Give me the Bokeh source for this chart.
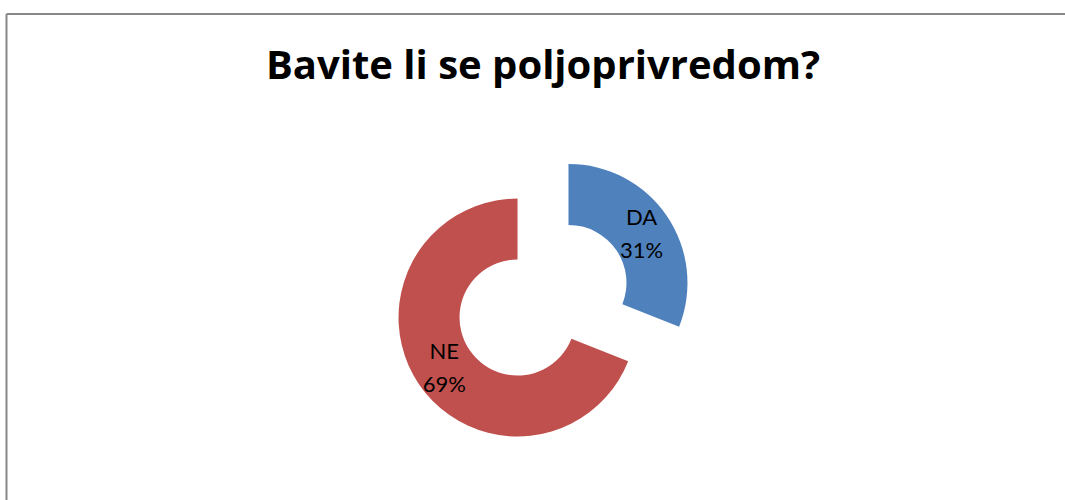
import numpy as np
from bokeh.plotting import figure
from bokeh.models import Range1d, ColumnDataSource
from bokeh.core.properties import value
from bokeh.embed import file_html
from bokeh.resources import INLINE

# ---- data ----
categories = ["DA", "NE"]
percents = [31, 69]
colors = ["#4F81BD", "#C0504D"]
title_text = "Bavite li se poljoprivredom?"

# ---- layout (pixels, y measured from top of page) ----
W, H = 1065, 500
CX, CY = 542.5, 299.7
R_OUT, R_IN = 119, 58
EXPLODE = 30.8

vals = np.array(percents, dtype=float)
frac = vals / vals.sum()
cum = np.concatenate([[0], np.cumsum(frac)])
a0 = cum[:-1] * 360.0   # clockwise from 12 o'clock
a1 = cum[1:] * 360.0
start = np.radians(90 - a1)
end = np.radians(90 - a0)
mid = np.radians(90 - (a0 + a1) / 2)

cy_data = H - CY
xs = CX + EXPLODE * np.cos(mid)
ys = cy_data + EXPLODE * np.sin(mid)
r_mid = (R_OUT + R_IN) / 2
lx = xs + r_mid * np.cos(mid)
ly = ys + r_mid * np.sin(mid)
labels = [f"{c}\n{p}%" for c, p in zip(categories, percents)]

src = ColumnDataSource(dict(x=xs, y=ys, start=start, end=end, color=colors,
                            lx=lx, ly=ly, label=labels))

p = figure(width=W, height=H, x_range=Range1d(0, W), y_range=Range1d(0, H),
           output_backend="svg", toolbar_location=None, min_border=0,
           outline_line_color=None, background_fill_color="white",
           border_fill_color="white")
p.axis.visible = False
p.grid.visible = False

# chart border
p.segment(x0=[6, 6], y0=[H - 13.5, H - 13.5], x1=[6, W + 5], y1=[-5, H - 13.5],
          line_color="#888888", line_width=2)

p.annular_wedge(x="x", y="y", inner_radius=R_IN, outer_radius=R_OUT,
                start_angle="start", end_angle="end", fill_color="color",
                line_color=None, source=src)

p.text(x="lx", y="ly", text="label", source=src, text_align="center",
       text_baseline="middle", text_font=value("Lato"), text_font_size="22px",
       text_line_height=1.22, text_color="black")

p.text(x=[CX], y=[H - 63], text=[title_text], text_align="center",
       text_baseline="alphabetic", text_font=value("Open Sans"),
       text_font_size="40px", text_font_style="bold", text_color="black")

open("out.html", "w").write(file_html(p, INLINE))
